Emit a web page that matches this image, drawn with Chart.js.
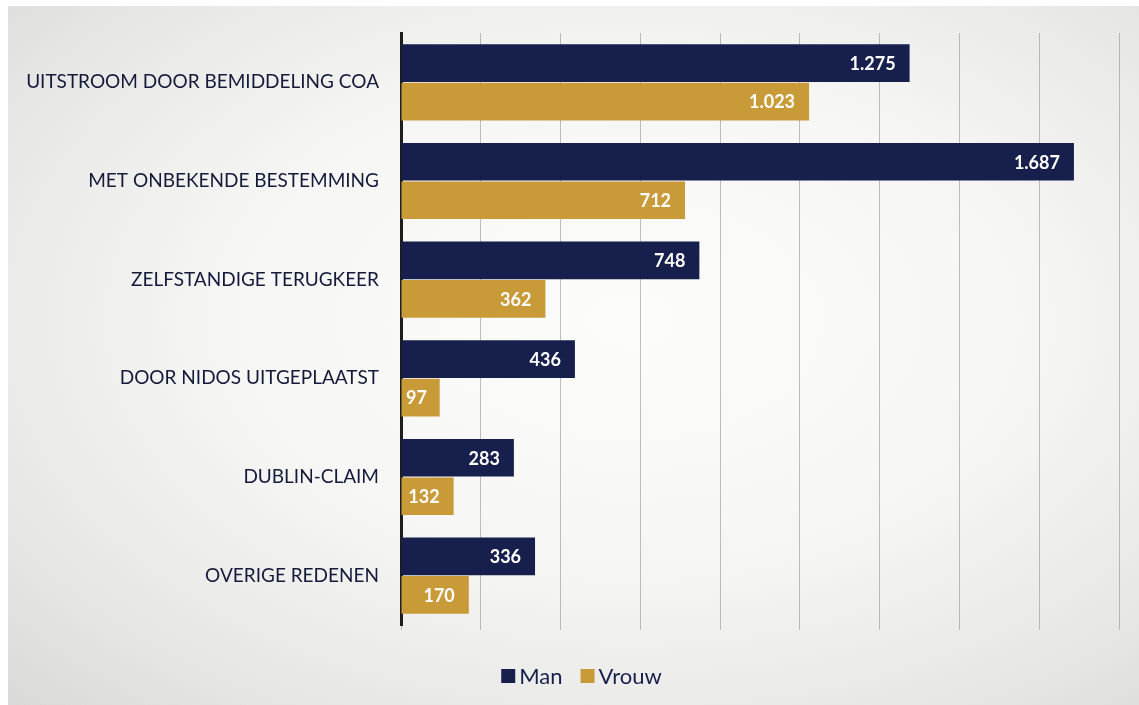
<!DOCTYPE html>
<html>
<head>
<meta charset="utf-8">
<script src="https://cdn.jsdelivr.net/npm/chart.js@4/dist/chart.umd.min.js"></script>
<style>
  html, body { margin: 0; padding: 0; background: #fff; }
  #wrap {
    position: relative; width: 1139px; height: 705px; overflow: hidden;
  }
  #panel {
    position: absolute; left: 8px; top: 6px; right: 0; bottom: 0;
    background: radial-gradient(ellipse at 55% 45%, #fcfcfb 0%, #f6f6f4 45%, #e6e6e4 80%, #d9d9d7 100%);
  }
  canvas { position: absolute; left: 0; top: 0; }
</style>
</head>
<body>
<div id="wrap">
  <div id="panel"></div>
  <canvas id="chart" width="1139" height="705"></canvas>
</div>
<script>
/* ---------- 데이터 ---------- */
const CATEGORIES = [
  'UITSTROOM DOOR BEMIDDELING COA',
  'MET ONBEKENDE BESTEMMING',
  'ZELFSTANDIGE TERUGKEER',
  'DOOR NIDOS UITGEPLAATST',
  'DUBLIN-CLAIM',
  'OVERIGE REDENEN'
];
const MAN   = [1275, 1687, 748, 436, 283, 336];
const VROUW = [1023, 712, 362, 97, 132, 170];

const NAVY = '#17204d';
const GOLD = '#c99b38';
const FONT = "Lato, 'Open Sans', sans-serif";

function fmt(v) {
  return String(v).replace(/\B(?=(\d{3})+(?!\d))/g, '.');
}

/* ---------- 막대 끝 값 라벨 ---------- */
const valueLabels = {
  id: 'valueLabels',
  afterDatasetsDraw(chart) {
    const { ctx, chartArea } = chart;
    ctx.save();
    ctx.fillStyle = '#ffffff';
    ctx.textAlign = 'right';
    ctx.textBaseline = 'middle';
    ctx.font = 'bold 18px ' + FONT;
    chart.data.datasets.forEach((ds, di) => {
      chart.getDatasetMeta(di).data.forEach((bar, i) => {
        const txt = fmt(ds.data[i]);
        const w = ctx.measureText(txt).width;
        // 짧은 막대는 축 바로 옆에 붙임
        const x = Math.max(bar.x - 14, chartArea.left + 5 + w);
        ctx.fillText(txt, x, bar.y + 1);
      });
    });
    ctx.restore();
  }
};

/* ---------- 범례 (박스-텍스트 간격 좁게) ---------- */
const bottomLegend = {
  id: 'bottomLegend',
  afterDraw(chart) {
    const { ctx } = chart;
    const box = 14, gap = 4, itemGap = 18, y = 676;
    ctx.save();
    ctx.font = '22px ' + FONT;
    ctx.textBaseline = 'middle';
    const items = chart.data.datasets.map(ds => ({
      label: ds.label, color: ds.backgroundColor,
      w: box + gap + ctx.measureText(ds.label).width
    }));
    const total = items.reduce((s, it) => s + it.w, 0) + itemGap * (items.length - 1);
    let x = chart.width / 2 + 12 - total / 2;
    items.forEach(it => {
      ctx.fillStyle = it.color;
      ctx.fillRect(x, y - box / 2, box, box);
      ctx.fillStyle = NAVY;
      ctx.fillText(it.label, x + box + gap, y + 1);
      x += it.w + itemGap;
    });
    ctx.restore();
  }
};

new Chart(document.getElementById('chart'), {
  type: 'bar',
  data: {
    labels: CATEGORIES,
    datasets: [
      { label: 'Man',   data: MAN,   backgroundColor: NAVY },
      { label: 'Vrouw', data: VROUW, backgroundColor: GOLD }
    ]
  },
  options: {
    indexAxis: 'y',
    responsive: false,
    animation: false,
    layout: { padding: { top: 33, right: 20, left: 0, bottom: 75 } },
    datasets: { bar: { categoryPercentage: 0.78, barPercentage: 0.98 } },
    plugins: {
      legend: { display: false },
      tooltip: { enabled: false }
    },
    scales: {
      x: {
        min: 0, max: 1800,
        ticks: { stepSize: 200, display: false },
        grid: { color: 'rgba(140,140,140,0.55)', lineWidth: 1, drawTicks: true, tickLength: 5 },
        border: { display: false }
      },
      y: {
        afterFit(scale) { scale.width = 401; },
        ticks: {
          color: '#141a3a',
          padding: 14,
          font: { size: 19, family: FONT }
        },
        grid: { display: false },
        border: { color: '#1d1d1d', width: 3 }
      }
    }
  },
  plugins: [valueLabels, bottomLegend]
});
</script>
</body>
</html>
